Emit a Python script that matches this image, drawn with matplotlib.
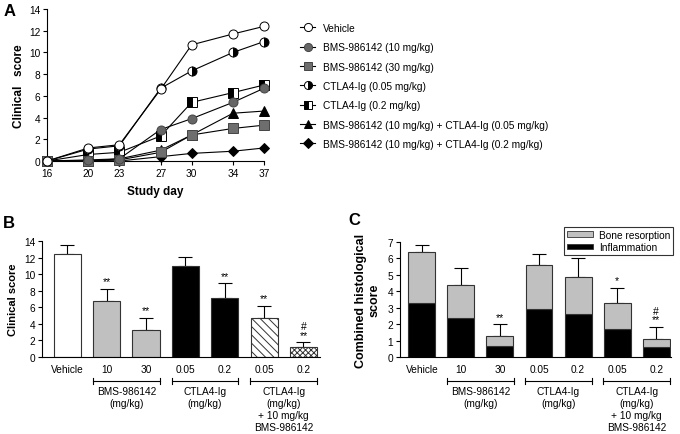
import matplotlib
matplotlib.use("Agg")
import matplotlib.pyplot as plt
from matplotlib.patches import Patch

plt.rcParams['font.family'] = ['Liberation Sans', 'DejaVu Sans']
plt.rcParams['hatch.linewidth'] = 0.7

# --- panel A: time course ---
days = [16, 20, 23, 27, 30, 34, 37]
vehicle = [0, 1.2, 1.5, 6.6, 10.7, 11.7, 12.4]
bms10 = [0, 0.1, 0.2, 2.9, 3.9, 5.4, 6.7]
bms30 = [0, 0.0, 0.1, 0.8, 2.4, 3.0, 3.3]
ctla005 = [0, 1.1, 1.4, 6.7, 8.3, 10.0, 11.0]
ctla02 = [0, 0.6, 0.8, 2.3, 5.4, 6.3, 7.0]
combo005 = [0, 0.0, 0.2, 1.0, 2.4, 4.4, 4.6]
combo02 = [0, 0.0, 0.0, 0.4, 0.7, 0.9, 1.2]
series_labels = ["Vehicle", "BMS-986142 (10 mg/kg)", "BMS-986142 (30 mg/kg)",
                 "CTLA4-Ig (0.05 mg/kg)", "CTLA4-Ig (0.2 mg/kg)",
                 "BMS-986142 (10 mg/kg) + CTLA4-Ig (0.05 mg/kg)",
                 "BMS-986142 (10 mg/kg) + CTLA4-Ig (0.2 mg/kg)"]

# --- panel B: clinical score at day 37 ---
groups = ["Vehicle", "10", "30", "0.05", "0.2", "0.05", "0.2"]
clin_mean = [12.4, 6.7, 3.3, 11.0, 7.1, 4.7, 1.2]
clin_err = [1.1, 1.5, 1.4, 1.1, 1.8, 1.5, 0.6]
clin_sig = ["", "**", "**", "", "**", "**", "#\n**"]

# --- panel C: histology ---
inflammation = [3.3, 2.4, 0.7, 2.9, 2.6, 1.7, 0.6]
bone_resorption = [3.1, 2.0, 0.6, 2.7, 2.3, 1.6, 0.5]
hist_err = [0.4, 1.0, 0.7, 0.65, 1.1, 0.9, 0.75]
hist_sig = ["", "", "**", "", "", "*", "#\n**"]

bracket_groups = [(1, 2, "BMS-986142\n(mg/kg)"),
                  (3, 4, "CTLA4-Ig\n(mg/kg)"),
                  (5, 6, "CTLA4-Ig\n(mg/kg)\n+ 10 mg/kg\nBMS-986142")]

FS = 7.3      # ordinary text
LFS = 8       # bold axis labels
W, H = 680, 435
fig = plt.figure(figsize=(6.8, 4.35), dpi=100)


def px_axes(l, t, r, b):
    return fig.add_axes([l / W, 1 - b / H, (r - l) / W, (b - t) / H])


def style(ax):
    for s in ("top", "right"):
        ax.spines[s].set_visible(False)
    for s in ("left", "bottom"):
        ax.spines[s].set_linewidth(0.8)
    ax.tick_params(labelsize=FS, width=0.8, length=3, pad=2)


# ---------- A ----------
axA = px_axes(47, 10, 264, 162)
style(axA)
specs = [
    dict(marker="o", mfc="white", mec="black"),
    dict(marker="o", mfc="#666666", mec="#444444"),
    dict(marker="s", mfc="#6e6e6e", mec="#444444"),
    dict(marker="o", mfc="black", mec="black", fillstyle="right", markerfacecoloralt="white"),
    dict(marker="s", mfc="black", mec="black", fillstyle="left", markerfacecoloralt="white"),
    dict(marker="^", mfc="black", mec="black"),
    dict(marker="D", mfc="black", mec="black"),
]
all_series = [vehicle, bms10, bms30, ctla005, ctla02, combo005, combo02]
handles = []
for i, (ys, sp) in enumerate(zip(all_series, specs)):
    ms = 5.5 if sp["marker"] == "D" else 6.5
    ln, = axA.plot(days, ys, color="black", lw=0.8, ms=ms, mew=0.7,
                   clip_on=False, zorder=3 + (7 - i), **sp)
    handles.append(ln)
axA.set_xlim(16, 37)
axA.set_ylim(0, 14)
axA.set_xticks(days)
axA.set_yticks(range(0, 15, 2))
axA.set_ylabel("Clinical   score", fontsize=8.5, fontweight="bold", labelpad=3)
axA.set_xlabel("Study day", fontsize=8.5, fontweight="bold", labelpad=5)
fig.legend(handles, series_labels, loc="upper left",
           bbox_to_anchor=(300 / W, 1 - 24 / H), frameon=False, fontsize=FS,
           handlelength=1.5, handletextpad=0.8, labelspacing=0.92,
           borderpad=0, borderaxespad=0, markerscale=0.9)
fig.text(4 / W, 1 - 11 / H, "A", fontsize=12, fontweight="bold", va="center")


def bracket(ax, axis_bottom, axis_h):
    tr = ax.get_xaxis_transform()
    yb = (axis_bottom - 382) / axis_h
    tk = 3 / axis_h
    for a, b, txt in bracket_groups:
        x0, x1 = a - 0.35, b + 0.35
        ax.plot([x0, x1], [yb, yb], color="black", lw=0.8, transform=tr, clip_on=False)
        for x in (x0, x1):
            ax.plot([x, x], [yb - tk, yb + tk], color="black", lw=0.8,
                    transform=tr, clip_on=False)
        ax.text((a + b) / 2, (axis_bottom - 387) / axis_h, txt, transform=tr,
                ha="center", va="top", fontsize=FS, linespacing=1.25)


xpos = list(range(len(groups)))

# ---------- B ----------
axB = px_axes(42, 242, 320, 358)
style(axB)
colors_b = ["white", "#c0c0c0", "#c0c0c0", "black", "black", "white", "white"]
hatches_b = ["", "", "", "", "", "\\\\\\\\", "xxxxxx"]
for x, m, e, c, h, s in zip(xpos, clin_mean, clin_err, colors_b, hatches_b, clin_sig):
    axB.bar(x, m, width=0.69, color=c, edgecolor="#333333", lw=0.8, hatch=h, zorder=2)
    axB.errorbar(x, m, yerr=[[0], [e]], color="black", lw=0.8, capsize=5,
                 capthick=0.8, zorder=1)
    if s:
        axB.text(x, m + e + 0.3, s, ha="center", va="bottom", fontsize=7.5,
                 linespacing=0.8)
axB.set_xlim(-0.64, 6.42)
axB.set_ylim(0, 14)
axB.set_yticks(range(0, 15, 2))
axB.set_xticks(xpos)
axB.set_xticklabels(groups)
axB.tick_params(axis="x", length=0, pad=5)
axB.set_ylabel("Clinical score", fontsize=LFS, fontweight="bold", labelpad=4)
bracket(axB, 358, 116)
fig.text(3 / W, 1 - 224 / H, "B", fontsize=12, fontweight="bold", va="center")

# ---------- C ----------
axC = px_axes(400, 243, 671, 358)
style(axC)
tops = [i + b for i, b in zip(inflammation, bone_resorption)]
axC.bar(xpos, inflammation, width=0.69, color="black", edgecolor="#333333", lw=0.8, zorder=2)
axC.bar(xpos, bone_resorption, bottom=inflammation, width=0.69, color="#c0c0c0",
        edgecolor="#333333", lw=0.8, zorder=2)
axC.errorbar(xpos, tops, yerr=[[0] * 7, hist_err], fmt="none", ecolor="black",
             elinewidth=0.8, capsize=5, capthick=0.8, zorder=1)
for x, t, e, s in zip(xpos, tops, hist_err, hist_sig):
    if s:
        axC.text(x, t + e + 0.15, s, ha="center", va="bottom", fontsize=7.5,
                 linespacing=0.8)
axC.set_xlim(-0.56, 6.38)
axC.set_ylim(0, 7)
axC.set_yticks(range(0, 8))
axC.set_xticks(xpos)
axC.set_xticklabels(groups)
axC.tick_params(axis="x", length=0, pad=5)
axC.set_ylabel("Combined histological\nscore", fontsize=9, fontweight="bold",
               labelpad=5, linespacing=1.15)
bracket(axC, 358, 115)
leg_h = [Patch(facecolor="#c0c0c0", edgecolor="#333333", lw=0.6),
         Patch(facecolor="black", edgecolor="#333333", lw=0.6)]
leg = fig.legend(leg_h, ["Bone resorption", "Inflammation"], loc="upper right",
                 bbox_to_anchor=(673 / W, 1 - 228 / H), fontsize=FS, frameon=True,
                 fancybox=False, edgecolor="black", handlelength=2.6,
                 handleheight=0.45, handletextpad=0.6, labelspacing=0.25,
                 borderpad=0.25, borderaxespad=0)
leg.get_frame().set_linewidth(0.8)
fig.text(348 / W, 1 - 221 / H, "C", fontsize=12, fontweight="bold", va="center")

fig.savefig("out.png", dpi=100)
